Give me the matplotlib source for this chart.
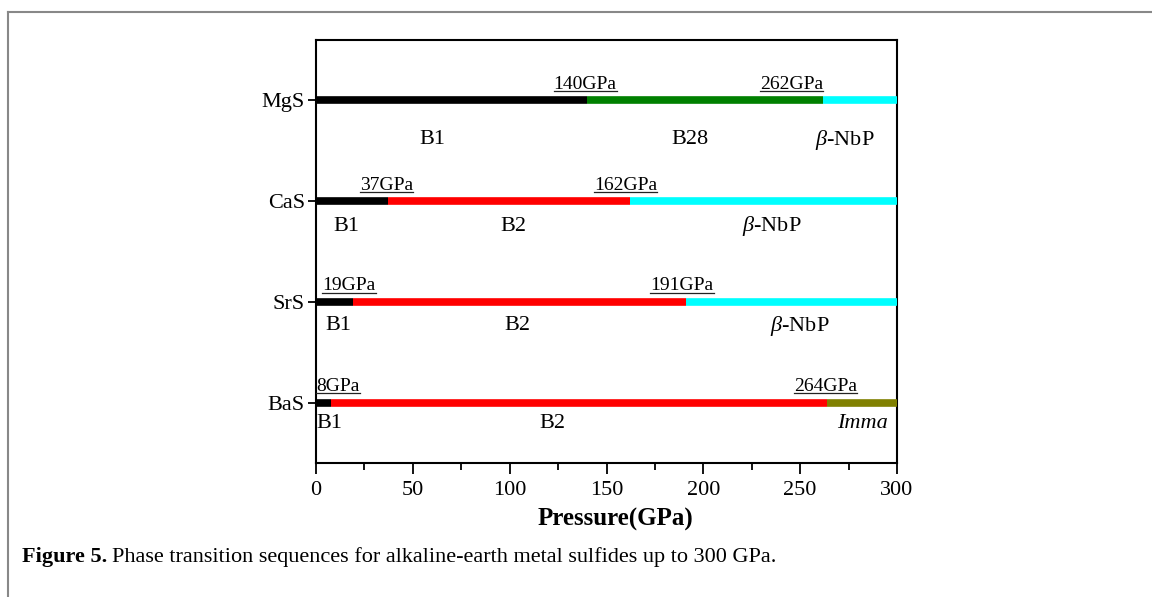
import matplotlib
matplotlib.use("Agg")
import matplotlib.pyplot as plt
from matplotlib.lines import Line2D
from matplotlib.ticker import MultipleLocator

plt.rcParams['font.family'] = ['Liberation Serif', 'DejaVu Serif']
plt.rcParams['mathtext.fontset'] = 'custom'
plt.rcParams['mathtext.rm'] = 'Liberation Serif'
plt.rcParams['mathtext.it'] = 'Liberation Serif:italic'
plt.rcParams['mathtext.bf'] = 'Liberation Serif:bold'

# Compounds, from top row to bottom row
compounds = ["MgS", "CaS", "SrS", "BaS"]
max_pressure = 300

# Transition pressures (GPa) for each compound
transitions = {
    "MgS": [140, 262],
    "CaS": [37, 162],
    "SrS": [19, 191],
    "BaS": [8, 264],
}
# Phase sequence for each compound
phases = {
    "MgS": ["B1", "B28", r"$\mathit{\beta}$-NbP"],
    "CaS": ["B1", "B2", r"$\mathit{\beta}$-NbP"],
    "SrS": ["B1", "B2", r"$\mathit{\beta}$-NbP"],
    "BaS": ["B1", "B2", "Imma"],
}
phase_colors = {
    "MgS": ["#000000", "#008000", "#00ffff"],
    "CaS": ["#000000", "#ff0000", "#00ffff"],
    "SrS": ["#000000", "#ff0000", "#00ffff"],
    "BaS": ["#000000", "#ff0000", "#808000"],
}
# Where the phase names and pressure labels sit along the pressure axis
phase_label_x = {
    "MgS": [60, 193, 273],
    "CaS": [15.5, 102, 235.5],
    "SrS": [11.4, 104, 250],
    "BaS": [7, 122, 282],
}
pressure_label_x = {
    "MgS": [139, 245.5],
    "CaS": [36.5, 160],
    "SrS": [17, 189],
    "BaS": [11.4, 263],
}
phase_label_dy = {"MgS": -0.39, "CaS": -0.25, "SrS": -0.235, "BaS": -0.21}

caption_head = "Figure 5."
caption_body = "Phase transition sequences for alkaline-earth metal sulfides up to 300 GPa."

fig = plt.figure(figsize=(11.52, 5.97), dpi=100)
ax = fig.add_axes([316 / 1152, 1 - 463 / 597, 581 / 1152, 423 / 597])

rows = {c: len(compounds) - i for i, c in enumerate(compounds)}
underlined = []

for comp in compounds:
    y = rows[comp]
    edges = [0] + transitions[comp] + [max_pressure]
    for k, col in enumerate(phase_colors[comp]):
        ax.plot([edges[k], edges[k + 1]], [y, y], color=col, lw=5.5,
                solid_capstyle='butt', zorder=3)
    for k, p in enumerate(transitions[comp]):
        t = ax.text(pressure_label_x[comp][k], y + 0.16, "%dGPa" % p,
                    ha='center', va='center', fontsize=14)
        underlined.append(t)
    for k, name in enumerate(phases[comp]):
        style = 'italic' if name == "Imma" else 'normal'
        ax.text(phase_label_x[comp][k], y + phase_label_dy[comp], name,
                ha='center', va='center', fontsize=16, fontstyle=style)

ax.set_xlim(0, max_pressure)
ax.set_ylim(0.4, 4.6)
ax.set_yticks([rows[c] for c in compounds])
ax.set_yticklabels(compounds, fontsize=16)
ax.xaxis.set_major_locator(MultipleLocator(50))
ax.xaxis.set_minor_locator(MultipleLocator(25))
ax.tick_params(axis='x', which='major', direction='out', length=8, width=1.3,
               labelsize=16, pad=5)
ax.tick_params(axis='x', which='minor', direction='out', length=5, width=1.3)
ax.tick_params(axis='y', which='major', direction='out', length=6, width=1.3,
               pad=2)
for s in ax.spines.values():
    s.set_linewidth(1.5)
ax.set_xlabel("Pressure(GPa)", fontsize=18, fontweight='bold')
ax.xaxis.set_label_coords(0.515, -0.105)

# Page frame lines
fig.add_artist(Line2D([8 / 1152, 8 / 1152], [0, 1 - 12 / 597],
                      transform=fig.transFigure, color='#888888', lw=1.5))
fig.add_artist(Line2D([8 / 1152, 1], [1 - 12 / 597, 1 - 12 / 597],
                      transform=fig.transFigure, color='#888888', lw=1.5))

head = fig.text(22 / 1152, 1 - 557 / 597, caption_head,
                ha='left', va='center', fontsize=16, fontweight='bold')

fig.canvas.draw()
renderer = fig.canvas.get_renderer()
W, H = fig.bbox.width, fig.bbox.height

hb = head.get_window_extent(renderer)
fig.text((hb.x1 + 5) / W, 1 - 557 / 597, caption_body,
         ha='left', va='center', fontsize=16)

# Underline the transition-pressure labels
for t in underlined:
    bb = t.get_window_extent(renderer)
    yline = bb.y0 + 1.5
    fig.add_artist(Line2D([bb.x0 / W, bb.x1 / W], [yline / H, yline / H],
                          transform=fig.transFigure, color='#222222', lw=0.9))

fig.savefig("out.png", dpi=100)
